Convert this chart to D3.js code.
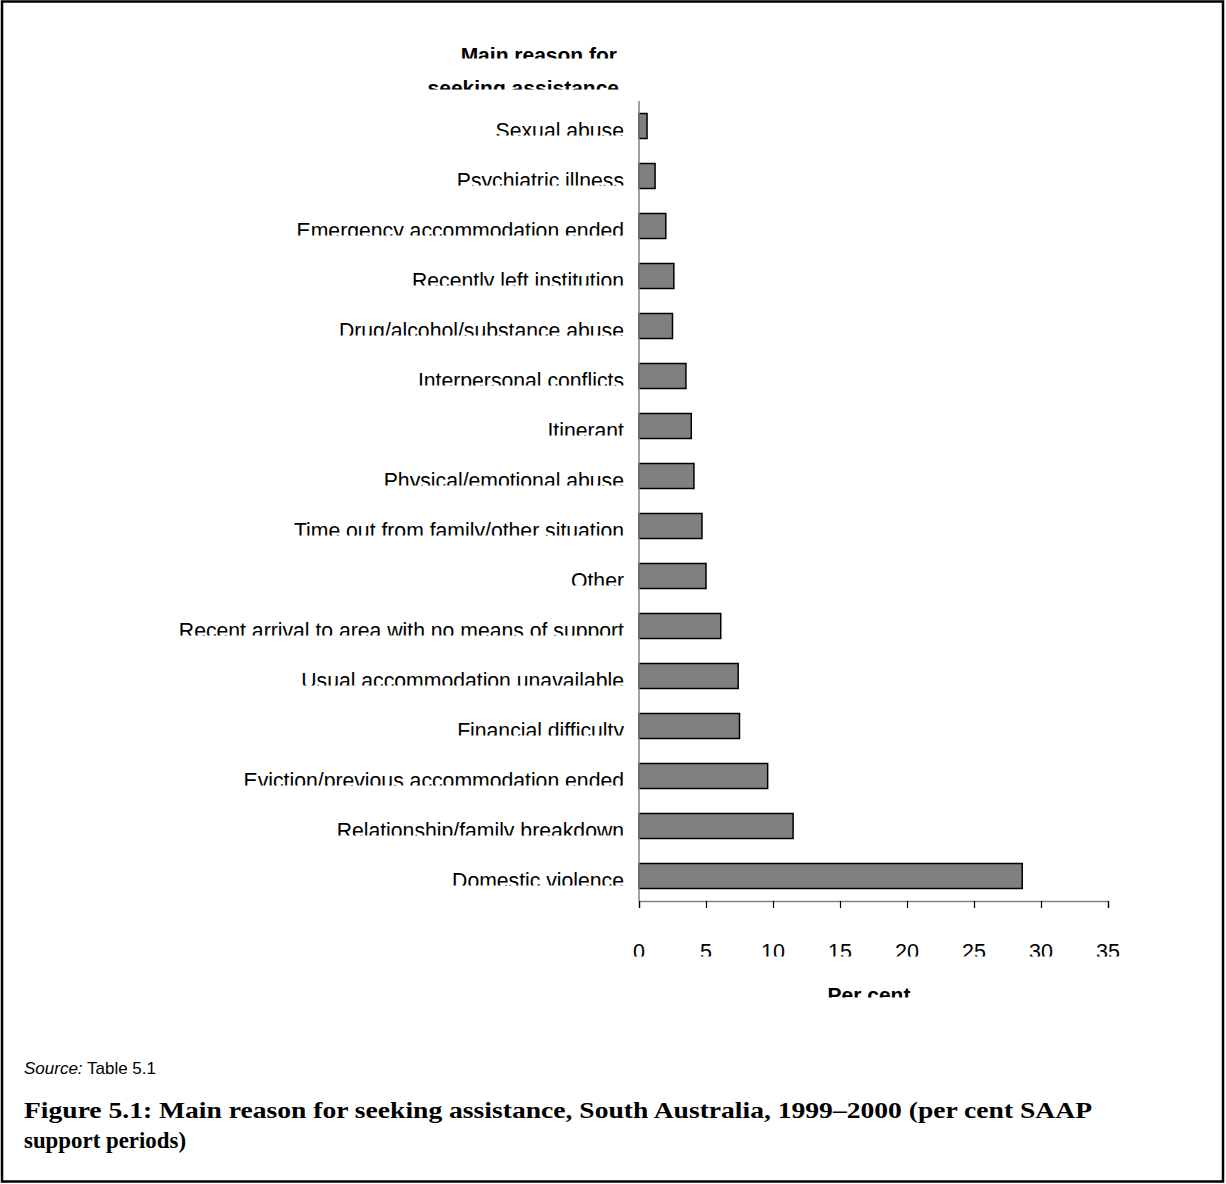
<!DOCTYPE html>
<html>
<head>
<meta charset="utf-8">
<script src="https://cdn.jsdelivr.net/npm/d3@7"></script>
<style>
  html, body { margin: 0; padding: 0; background: #fff; }
  svg { display: block; }
  text { font-family: "Liberation Sans", Arial, sans-serif; fill: #000; }
</style>
</head>
<body>
<svg id="chart" width="1226" height="1184"></svg>
<script>
// Main reason for seeking assistance (per cent of support periods), top to bottom
const categories = [
  "Sexual abuse",
  "Psychiatric illness",
  "Emergency accommodation ended",
  "Recently left institution",
  "Drug/alcohol/substance abuse",
  "Interpersonal conflicts",
  "Itinerant",
  "Physical/emotional abuse",
  "Time out from family/other situation",
  "Other",
  "Recent arrival to area with no means of support",
  "Usual accommodation unavailable",
  "Financial difficulty",
  "Eviction/previous accommodation ended",
  "Relationship/family breakdown",
  "Domestic violence"
];
const values = [0.6, 1.2, 2.0, 2.6, 2.5, 3.5, 3.9, 4.1, 4.7, 5.0, 6.1, 7.4, 7.5, 9.6, 11.5, 28.6];
const tickValues = [0, 5, 10, 15, 20, 25, 30, 35];
const titleLines = ["Main reason for", "seeking assistance"];
const axisTitle = "Per cent";
const captionLines = [
  "Figure 5.1: Main reason for seeking assistance, South Australia, 1999\u20132000 (per cent SAAP",
  "support periods)"
];

const svg = d3.select("#chart");
const x = d3.scaleLinear().domain([0, 35]).range([639, 1108]);
const y = d3.scaleBand().domain(categories).range([101, 901])
  .paddingInner(0.5).paddingOuter(0.25);

// Outer frame
svg.append("rect")
  .attr("x", 2).attr("y", 1.5).attr("width", 1221).attr("height", 1180)
  .attr("fill", "none").attr("stroke", "#000").attr("stroke-width", 2.5);

const defs = svg.append("defs");
let clipId = 0;
// Text whose lower part is cut off at clipY
function clippedText(parent, str, tx, baseline, clipY, opts) {
  const id = "clip" + (clipId++);
  defs.append("clipPath").attr("id", id)
    .append("rect").attr("x", 0).attr("y", baseline - 60)
    .attr("width", 1226).attr("height", clipY - (baseline - 60));
  const t = parent.append("text")
    .attr("x", tx).attr("y", baseline)
    .attr("clip-path", `url(#${id})`)
    .attr("font-size", opts.size || 21.2)
    .attr("font-weight", opts.weight || "normal")
    .attr("text-anchor", opts.anchor || "start")
    .text(str);
  return t;
}

// Bars
const data = categories.map((c, i) => ({ c, v: values[i] }));
svg.append("g").selectAll("rect").data(data).join("rect")
  .attr("x", x(0))
  .attr("y", d => y(d.c))
  .attr("width", d => x(d.v) - x(0))
  .attr("height", y.bandwidth())
  .attr("fill", "#808080")
  .attr("stroke", "#000")
  .attr("stroke-width", 1.5);

// Category axis line
svg.append("line")
  .attr("x1", x(0)).attr("x2", x(0))
  .attr("y1", 101).attr("y2", 901)
  .attr("stroke", "#808080").attr("stroke-width", 1.5);

// Category labels
const labG = svg.append("g");
categories.forEach(c => {
  const cy = y(c) + y.bandwidth() / 2;
  clippedText(labG, c, 624, cy + 12, cy + 9.5, { anchor: "end" });
});

// Value axis
const xAxis = d3.axisBottom(x).tickValues(tickValues).tickSize(7).tickFormat(() => "");
const axG = svg.append("g").attr("transform", "translate(0,901)").call(xAxis);
axG.select(".domain").attr("stroke", "#808080").attr("stroke-width", 1.5);
axG.selectAll(".tick line").attr("stroke", "#000").attr("stroke-width", 1.2);

const tickG = svg.append("g");
tickValues.forEach(v => {
  clippedText(tickG, String(v), x(v), 959, 956.5, { anchor: "middle", size: 21.5 });
});

// Axis titles
clippedText(svg, axisTitle, 869, 1002, 997.5, { anchor: "middle", weight: "bold", size: 21 });
clippedText(svg, titleLines[0], 617, 62, 58.5, { anchor: "end", weight: "bold", size: 21 });
clippedText(svg, titleLines[1], 619, 94.5, 89.5, { anchor: "end", weight: "bold", size: 21 });

// Source note
const src = svg.append("text").attr("x", 24).attr("y", 1074).attr("font-size", 17);
src.append("tspan").attr("font-style", "italic").text("Source:");
src.append("tspan").text(" Table 5.1");

// Figure caption
const capFont = '"Liberation Serif", "DejaVu Serif", serif';
const capG = svg.append("g");
capG.append("text").attr("x", 24).attr("y", 1118)
  .style("font-family", capFont)
  .attr("font-weight", "bold").attr("font-size", 23)
  .attr("textLength", 1068).attr("lengthAdjust", "spacingAndGlyphs")
  .text(captionLines[0]);
capG.append("text").attr("x", 24).attr("y", 1148)
  .style("font-family", capFont)
  .attr("font-weight", "bold").attr("font-size", 23)
  .attr("textLength", 162).attr("lengthAdjust", "spacingAndGlyphs")
  .text(captionLines[1]);
</script>
</body>
</html>
